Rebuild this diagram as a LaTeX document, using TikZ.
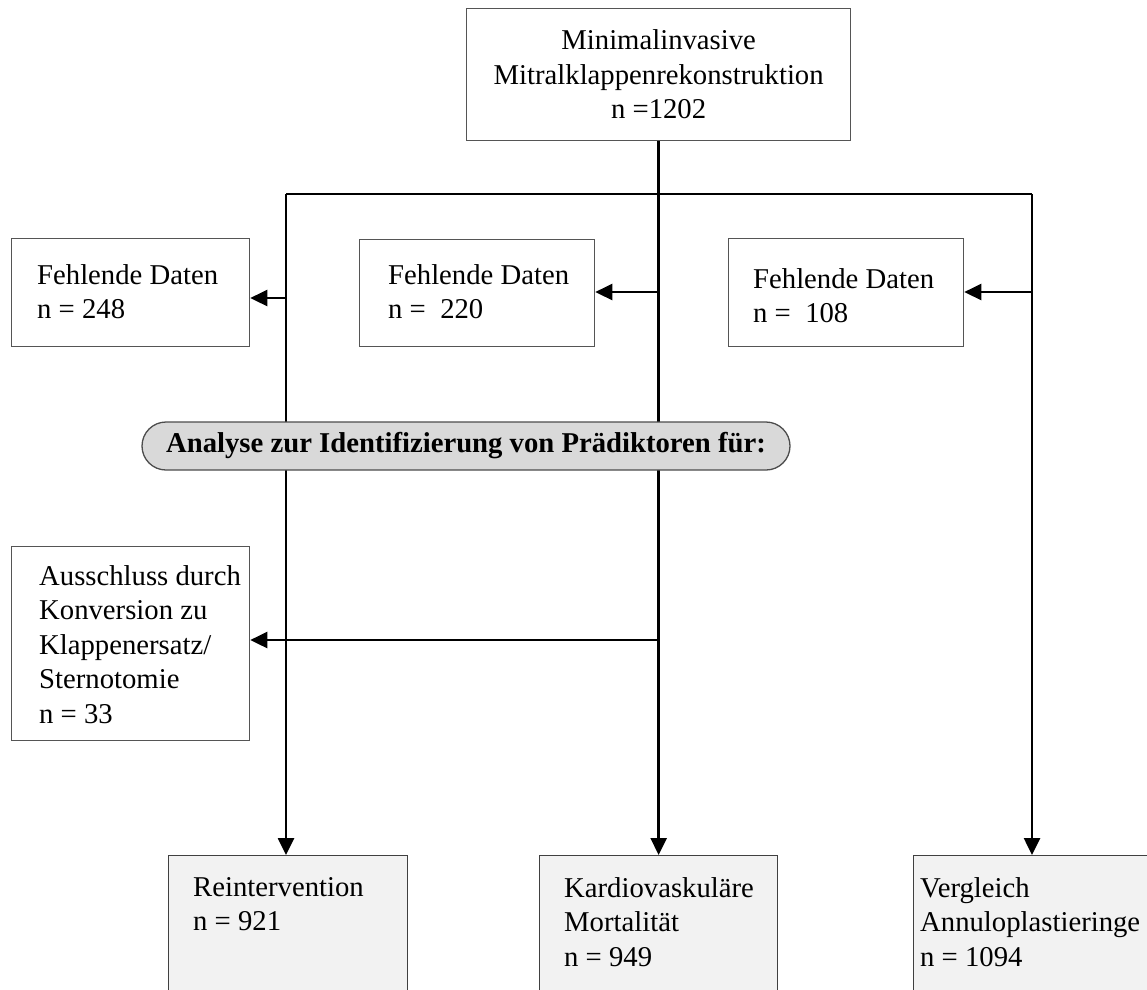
\documentclass[tikz,border=0pt]{standalone}
\usepackage{fontspec}
\setmainfont{Liberation Serif}
\usetikzlibrary{arrows.meta}
\definecolor{boxline}{HTML}{555555}
\definecolor{boxfill}{HTML}{F2F2F2}
\definecolor{pillfill}{HTML}{D9D9D9}
\begin{document}
\begin{tikzpicture}[x=1pt,y=-1pt,
  txt/.style={font=\fontsize{28.7}{34.5}\selectfont, inner sep=0pt, align=left, anchor=north west},
  box/.style={draw=boxline, line width=1.3pt, inner sep=0pt, anchor=north west},
  endbox/.style={box, fill=boxfill, draw=black!75},
  conn/.style={line width=2.6pt, draw=black},
  arr/.style={conn, -{Triangle[length=17pt,width=16pt]}},
  pill/.style={draw=black!70, line width=1.3pt, fill=pillfill, rounded corners=24pt,
     minimum width=648pt, minimum height=48pt, inner sep=0pt,
     font=\fontsize{28.7}{34.5}\selectfont\bfseries}
]
\useasboundingbox (0,0) rectangle (1147,989);
\clip (0,0) rectangle (1147,989);

% boxes
\node[box, minimum width=384pt, minimum height=132pt, align=center,
      font=\fontsize{28.7}{34.5}\selectfont] (top) at (466,8)
      {Minimalinvasive\\Mitralklappenrekonstruktion\\n =1202};

\node[box, minimum width=238pt, minimum height=108pt] (fd1) at (11,238) {};
\node[box, minimum width=235pt, minimum height=107pt] (fd2) at (359,239) {};
\node[box, minimum width=235pt, minimum height=108pt] (fd3) at (728,238) {};
\node[txt] (fd1t) at (37,264) {Fehlende Daten\\n = 248};
\node[txt] (fd2t) at (388,264) {Fehlende Daten\\n =\ \ 220};
\node[txt] (fd3t) at (753,268) {Fehlende Daten\\n =\ \ 108};

\node[box, minimum width=238pt, minimum height=194pt] (aus) at (11,546) {};
\node[txt] (aust) at (39,565) {Ausschluss durch\\Konversion zu\\Klappenersatz/\\Sternotomie\\n = 33};

\node[endbox, minimum width=239pt, minimum height=160pt] (b1) at (168,855) {};
\node[endbox, minimum width=238pt, minimum height=160pt] (b2) at (539,855) {};
\node[endbox, minimum width=260pt, minimum height=160pt] (b3) at (913,855) {};
\node[txt] (b1t) at (193,877) {Reintervention\\n = 921};
\node[txt] (b2t) at (564,877) {Kardiovaskuläre\\Mortalität\\n = 949};
\node[txt] (b3t) at (920,877) {Vergleich\\Annuloplastieringe\\n = 1094};

% connectors
\coordinate (jl) at (286,194);
\coordinate (jr) at (1032,194);
\coordinate (a1) at (286,298);
\coordinate (a2) at (658,292);
\coordinate (a3) at (1032,292);
\coordinate (a4) at (658,640);

\draw[conn] (jl) -- (jr);
\draw[arr] (top.south) -- (top.south |- b2.north);
\draw[arr] (jl) -- (jl |- b1.north);
\draw[arr] (jr) -- (jr |- b3.north);
\draw[arr] (a1) -- (a1 -| fd1.east);
\draw[arr] (a2) -- (a2 -| fd2.east);
\draw[arr] (a3) -- (a3 -| fd3.east);
\draw[arr] (a4) -- (a4 -| aus.east);

% pill on top
\node[pill] (pill) at (466,446) {Analyse zur Identifizierung von Prädiktoren für:};
\end{tikzpicture}
\end{document}
